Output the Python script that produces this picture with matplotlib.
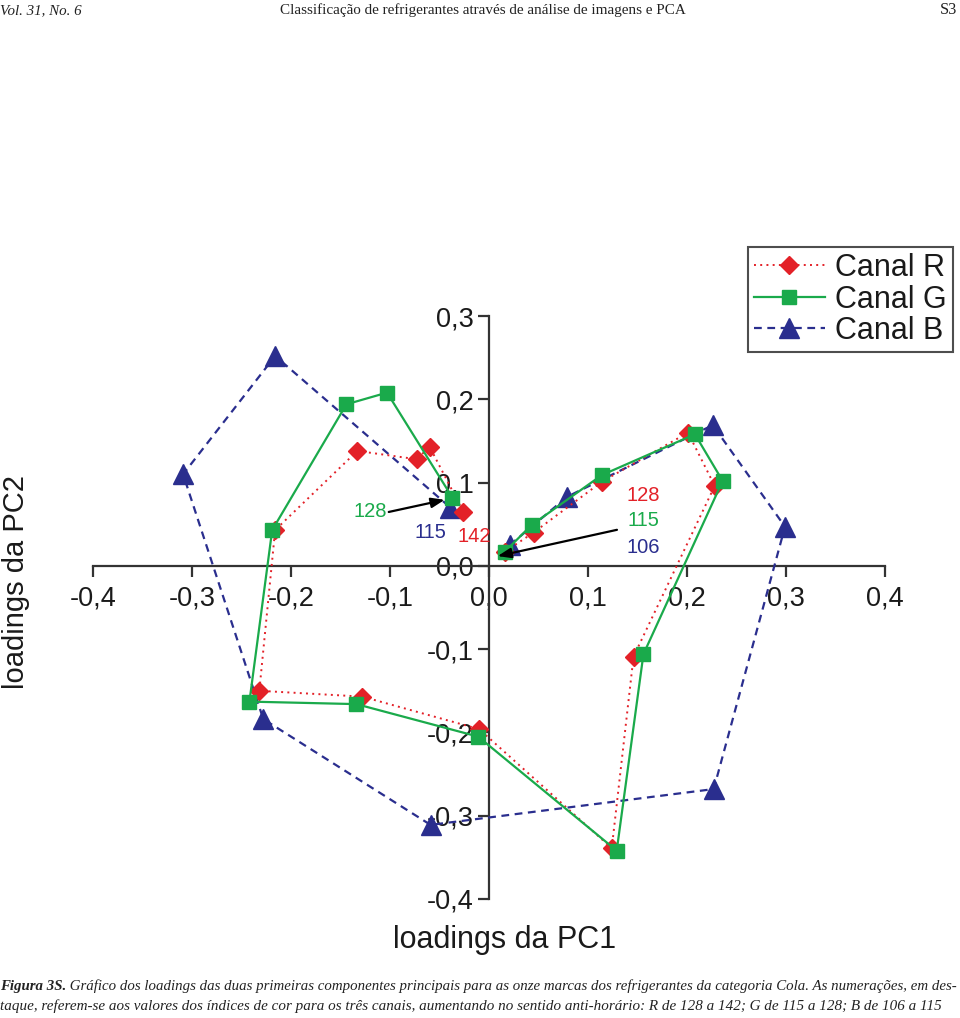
import matplotlib
matplotlib.use("Agg")
import matplotlib.pyplot as plt
from matplotlib.ticker import FixedLocator, FixedFormatter

# ---- data (loadings) ----
r_x = [0.016, 0.045, 0.114, 0.201, 0.228, 0.146, 0.124, -0.010, -0.128, -0.232, -0.216, -0.133, -0.073, -0.060, -0.026]
r_y = [0.017, 0.040, 0.101, 0.160, 0.096, -0.109, -0.339, -0.196, -0.157, -0.150, 0.043, 0.138, 0.128, 0.143, 0.065]
g_x = [0.016, 0.043, 0.114, 0.208, 0.236, 0.156, 0.129, -0.011, -0.134, -0.242, -0.219, -0.144, -0.103, -0.037]
g_y = [0.017, 0.049, 0.109, 0.158, 0.102, -0.106, -0.342, -0.205, -0.166, -0.163, 0.043, 0.194, 0.208, 0.082]
b_x = [0.021, 0.079, 0.226, 0.299, 0.227, -0.059, -0.228, -0.309, -0.216, -0.039]
b_y = [0.025, 0.083, 0.169, 0.047, -0.268, -0.311, -0.184, 0.110, 0.252, 0.070]

x_ticks = [-0.4, -0.3, -0.2, -0.1, 0.0, 0.1, 0.2, 0.3, 0.4]
x_labels = ["-0,4", "-0,3", "-0,2", "-0,1", "0,0", "0,1", "0,2", "0,3", "0,4"]
y_ticks = [-0.4, -0.3, -0.2, -0.1, 0.0, 0.1, 0.2, 0.3]
y_labels = ["-0,4", "-0,3", "-0,2", "-0,1", "0,0", "0,1", "0,2", "0,3"]

series_names = ["Canal R", "Canal G", "Canal B"]
RED, GREEN, BLUE = "#e32128", "#1aaa4b", "#2a2e8e"
INK = "#1a1a1a"

header_left = "Vol. 31, No. 6"
header_mid = "Classificação de refrigerantes através de análise de imagens e PCA"
header_right = "S3"
caption_bold = "Figura 3S."
caption_1 = (" Gráfico dos loadings das duas primeiras componentes principais para as onze marcas "
             "dos refrigerantes da categoria Cola. As numerações, em des-")
caption_2 = ("taque, referem-se aos valores dos índices de cor para os três canais, aumentando no "
             "sentido anti-horário: R de 128 a 142; G de 115 a 128; B de 106 a 115")

W, H = 960, 1018
fig = plt.figure(figsize=(W / 100, H / 100), dpi=100)
plt.rcParams["font.family"] = ["Liberation Sans", "DejaVu Sans"]

ax = fig.add_axes([93 / W, (H - 899) / H, 792 / W, 583 / H])
ax.set_xlim(-0.4, 0.4)
ax.set_ylim(-0.4, 0.3)

ax.plot(b_x, b_y, color=BLUE, ls=(0, (3.5, 2.5)), lw=1.6, marker="^", ms=14,
        mfc=BLUE, mec=BLUE, label=series_names[2], clip_on=False, zorder=3)
ax.plot(g_x, g_y, color=GREEN, ls="-", lw=1.6, marker="s", ms=10.5,
        mfc=GREEN, mec=GREEN, label=series_names[1], clip_on=False, zorder=4)
ax.plot(r_x, r_y, color=RED, ls=(0, (1, 2.2)), lw=1.4, marker="D", ms=9.5,
        mfc=RED, mec=RED, label=series_names[0], clip_on=False, zorder=3.5)

# spines through the origin
for s in ["top", "right"]:
    ax.spines[s].set_visible(False)
ax.spines["left"].set_position(("data", 0))
ax.spines["bottom"].set_position(("data", 0))
for s in ["left", "bottom"]:
    ax.spines[s].set_color("#333333")
    ax.spines[s].set_linewidth(1.6)
    ax.spines[s].set_zorder(2)

ax.xaxis.set_major_locator(FixedLocator(x_ticks))
ax.xaxis.set_major_formatter(FixedFormatter(x_labels))
ax.yaxis.set_major_locator(FixedLocator(y_ticks))
ax.yaxis.set_major_formatter(FixedFormatter(y_labels))
ax.tick_params(axis="both", direction="out", length=8, width=1.6, color="#333333",
               labelsize=19.5, labelcolor=INK)
ax.tick_params(axis="x", pad=6)
ax.tick_params(axis="y", pad=3)
ax.patch.set_alpha(0)

# annotations
ax.annotate("", xy=(-0.042, 0.080), xytext=(-0.104, 0.064),
            arrowprops=dict(arrowstyle="-|>,head_length=0.8,head_width=0.3", color="black", lw=1.6), zorder=6)
ax.annotate("", xy=(0.006, 0.011), xytext=(0.132, 0.044),
            arrowprops=dict(arrowstyle="-|>,head_length=0.8,head_width=0.3", color="black", lw=1.6), zorder=6)
ax.text(-0.120, 0.065, "128", color=GREEN, fontsize=14.5, ha="center", va="center")
ax.text(-0.059, 0.040, "115", color=BLUE, fontsize=14.5, ha="center", va="center")
ax.text(-0.015, 0.035, "142", color=RED, fontsize=14.5, ha="center", va="center")
ax.text(0.156, 0.085, "128", color=RED, fontsize=14.5, ha="center", va="center")
ax.text(0.156, 0.054, "115", color=GREEN, fontsize=14.5, ha="center", va="center")
ax.text(0.156, 0.022, "106", color=BLUE, fontsize=14.5, ha="center", va="center")

# axis titles
fig.text(16 / W, 1 - 582 / H, "loadings da PC2", rotation=90, fontsize=21,
         ha="center", va="center", color=INK)
fig.text(505 / W, 1 - 940 / H, "loadings da PC1", fontsize=22,
         ha="center", va="center", color=INK)

# legend
h, l = ax.get_legend_handles_labels()
order = [2, 1, 0]
leg = fig.legend([h[i] for i in order], [l[i] for i in order],
                 loc="upper right", bbox_to_anchor=(953 / W, 1 - 247 / H),
                 fontsize=22, frameon=True, fancybox=False, handlelength=2.3,
                 handletextpad=0.35, labelspacing=0.05, borderpad=0.2, borderaxespad=0)
leg.get_frame().set_edgecolor("#222222")
leg.get_frame().set_linewidth(1.5)
for t in leg.get_texts():
    t.set_color(INK)

# header and caption
fig.canvas.draw()
rend = fig.canvas.get_renderer()

def fit_text(x, y, s, target_w, ha="left", **kw):
    t = fig.text(x / W, 1 - y / H, s, ha=ha, va="baseline", fontsize=12, **kw)
    w = t.get_window_extent(rend).width
    t.set_fontsize(12 * target_w / w)
    return t

fit_text(0, 14, header_left, 82, family="Liberation Serif", style="italic", color="#222222")
fit_text(483, 14, header_mid, 405, ha="center", family="Liberation Serif", color="#222222")
fit_text(957, 14, header_right, 17, ha="right", family="Liberation Serif", color="#222222")

fs = 11.5
tb = fig.text(0, 1 - 990 / H, caption_bold, fontsize=fs, family="Liberation Serif",
              style="italic", weight="bold", va="baseline", color="#222222")
t1 = fig.text(0, 1 - 990 / H, caption_1, fontsize=fs, family="Liberation Serif",
              style="italic", va="baseline", color="#222222")
t2 = fig.text(0, 1 - 1010 / H, caption_2, fontsize=fs, family="Liberation Serif",
              style="italic", va="baseline", color="#222222")
wb = tb.get_window_extent(rend).width
w1 = t1.get_window_extent(rend).width
scale = 955 / (wb + w1)
for t in (tb, t1):
    t.set_fontsize(fs * scale)
fig.canvas.draw()
wb = tb.get_window_extent(rend).width
t1.set_x(wb / W)
w2 = t2.get_window_extent(rend).width
t2.set_fontsize(fs * 943 / w2)

fig.savefig("out.png", dpi=100)
